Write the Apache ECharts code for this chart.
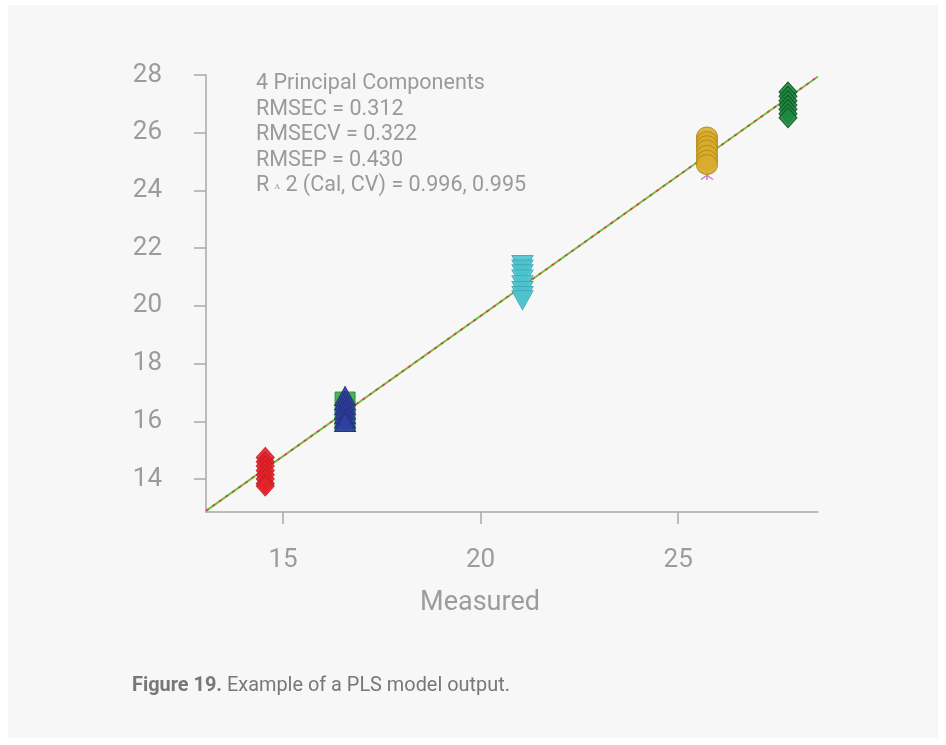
<!DOCTYPE html>
<html>
<head>
<meta charset="utf-8">
<title>PLS model output</title>
<script src="https://cdn.jsdelivr.net/npm/echarts@6/dist/echarts.min.js"></script>
<style>
  html, body { margin: 0; padding: 0; background: #ffffff; }
  #panel { position: absolute; left: 8px; top: 5px; width: 930px; height: 733px; background: #f7f7f7; }
  #chart { position: absolute; left: 0; top: 0; width: 946px; height: 745px; }
</style>
</head>
<body>
<div id="panel"></div>
<div id="chart"></div>
<script>
// Measured reference value for each sample
const measured = [14.55, 16.57, 21.06, 25.73, 27.78];

// Predicted values per sample (replicate spectra)
const predRed = [14.75, 14.6, 14.45, 14.3, 14.15, 14.0, 13.85, 13.76];
const predBlue = [16.88, 16.72, 16.56, 16.4, 16.25, 16.1, 15.98];
const predGreenSq = [16.67, 16.0];
const predCyan = [21.42, 21.26, 21.1, 20.92, 20.72, 20.52, 20.34, 20.2];
const predGold = [25.85, 25.7, 25.55, 25.4, 25.22, 25.05, 24.9];
const predPurple = [24.53];
const predDarkGreen = [27.41, 27.26, 27.11, 26.96, 26.81, 26.66, 26.52];

// Regression / target line end points
const fitX = [13.05, 28.54];
const fitY = [12.9, 27.95];

// Axis ranges and tick labels
const xRange = [13.05, 28.54];
const yRange = [12.86, 28];
const xTicks = [15, 20, 25];
const yTicks = [14, 16, 18, 20, 22, 24, 26, 28];

// Statistics block
const statsLines = [
  '4 Principal Components',
  'RMSEC = 0.312',
  'RMSECV = 0.322',
  'RMSEP = 0.430',
  'R {c|\u028C} 2 (Cal, CV) = 0.996, 0.995'
];

const pair = (x, ys) => ys.map(y => [x, y]);

const axisGray = '#a9a9a9';
const textGray = '#9c9c9c';
const tickFont = { color: textGray, fontSize: 26, fontFamily: 'Roboto', fontWeight: 400 };

function scatter(name, data, symbol, size, color, border, rotate, z) {
  return {
    name, type: 'scatter', data, symbol, symbolSize: size,
    symbolRotate: rotate || 0,
    itemStyle: { color, borderColor: border, borderWidth: 1, opacity: 0.9 },
    emphasis: { disabled: true },
    z: z || 3
  };
}

const chart = echarts.init(document.getElementById('chart'), null, { renderer: 'canvas' });

chart.setOption({
  backgroundColor: 'transparent',
  animation: false,
  grid: { left: 206, right: 128, top: 75, bottom: 233 },
  xAxis: {
    type: 'value', min: xRange[0], max: xRange[1],
    axisLine: { show: true, onZero: false, lineStyle: { color: axisGray, width: 1.5 } },
    axisTick: { show: true, length: 12, customValues: xTicks, lineStyle: { color: axisGray, width: 1.5 } },
    axisLabel: Object.assign({ customValues: xTicks, margin: 35 }, tickFont),
    splitLine: { show: false }
  },
  yAxis: {
    type: 'value', min: yRange[0], max: yRange[1],
    axisLine: { show: true, onZero: false, lineStyle: { color: axisGray, width: 1.5 } },
    axisTick: { show: true, length: 12, customValues: yTicks, lineStyle: { color: axisGray, width: 1.5 } },
    axisLabel: Object.assign({ customValues: yTicks, margin: 44 }, tickFont),
    splitLine: { show: false }
  },
  graphic: [
    {
      type: 'text', x: 480, y: 603,
      style: {
        text: 'Measured', fill: textGray, font: '27px Roboto',
        align: 'center', verticalAlign: 'middle'
      }
    },
    {
      type: 'text', left: 256, top: 71,
      style: {
        text: statsLines.join('\n'), fill: '#9a9a9a',
        font: '21.5px Roboto', lineHeight: 25.5,
        rich: { c: { fontSize: 11, fontFamily: 'Roboto', fill: '#9a9a9a', lineHeight: 25.5 } }
      }
    },
    {
      type: 'text', left: 132, top: 676,
      style: {
        text: '{b|Figure 19.} Example of a PLS model output.',
        rich: {
          b: { fontWeight: 'bold', fontSize: 19.9, fontFamily: 'Roboto', fill: '#777777' }
        },
        fill: '#777777', font: '19.9px Roboto'
      }
    }
  ],
  series: [
    {
      name: 'target', type: 'line', data: fitX.map((x, i) => [x, fitY[i]]),
      symbol: 'none', lineStyle: { color: '#74c044', width: 2 }, z: 1, silent: true
    },
    {
      name: 'fit', type: 'line', data: fitX.map((x, i) => [x, fitY[i]]),
      symbol: 'none', lineStyle: { color: '#d9443e', width: 1.6, type: [3, 5] }, z: 2, silent: true
    },
    scatter('s1', pair(measured[0], predRed), 'diamond', [18, 20], '#e3242b', '#c81a22'),
    scatter('s2sq', pair(measured[1], predGreenSq), 'rect', [20, 20], '#3aaa3f', '#2a8a30'),
    scatter('s2', pair(measured[1], predBlue), 'triangle', [21, 19], '#2f3f9e', '#24307e'),
    scatter('s3', pair(measured[2], predCyan), 'triangle', [21, 19], '#4cc3cd', '#3aa8b2', 180),
    {
      name: 's4star', type: 'scatter', data: pair(measured[3], predPurple),
      symbol: 'path://M0,0 L10,10 M10,0 L0,10 M5,0 L5,10', symbolSize: [12, 9],
      itemStyle: { color: 'none', borderColor: '#c060c8', borderWidth: 1.5 }, z: 2
    },
    scatter('s4', pair(measured[3], predGold), 'circle', [21, 20], '#d8ad2e', '#b58c1a'),
    scatter('s5', pair(measured[4], predDarkGreen), 'diamond', [18, 20], '#1f8a40', '#0c4f22')
  ]
});
</script>
</body>
</html>
